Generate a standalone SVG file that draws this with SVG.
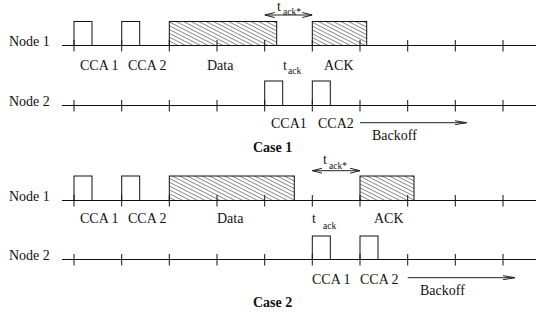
<svg xmlns="http://www.w3.org/2000/svg" width="537" height="320" viewBox="0 0 537 320">
<style>
  text { font-family: "Liberation Serif", "Times New Roman", serif; font-size: 14px; fill: #111; }
  .sub { font-size: 9.5px; }
  .bold { font-weight: bold; }
  .line { stroke: #111; stroke-width: 1; fill: none; }
  .box { stroke: #111; stroke-width: 1; fill: none; }
  .hatch { stroke: #111; stroke-width: 1; fill: url(#hatch); }
  .arrow { stroke: #222; stroke-width: 1; fill: none; }
</style>
<defs>
  <pattern id="hatch" patternUnits="userSpaceOnUse" width="10" height="3.4" patternTransform="rotate(27)">
    <line x1="0" y1="0.5" x2="10" y2="0.5" stroke="#333" stroke-width="0.6"/>
  </pattern>
  <marker id="ah" viewBox="0 0 10 6" refX="10" refY="3" markerWidth="10" markerHeight="6" markerUnits="userSpaceOnUse" orient="auto-start-reverse">
    <path d="M0,0.5 L10,3 L0,5.5" fill="none" stroke="#222" stroke-width="1"/>
  </marker>
  <marker id="ahl" viewBox="0 0 12 5" refX="12" refY="2.5" markerWidth="12" markerHeight="5" markerUnits="userSpaceOnUse" orient="auto">
    <path d="M0,0.5 L12,2.5 L0,4.5" fill="none" stroke="#222" stroke-width="1"/>
  </marker>
</defs>

<g id="case1">
  <g id="c1-node1">
    <text x="9" y="46">Node 1</text>
    <path class="line" d="M62,45.5 H536"/>
    <path class="line" d="M74,40 V51.5 M121.7,40 V51.5 M169.3,40 V51.5 M217,40 V51.5 M264.7,40 V51.5 M312.3,40 V51.5 M360,40 V51.5 M407.7,40 V51.5 M455.3,40 V51.5 M503,40 V51.5"/>
    <rect class="box" x="74" y="21.5" width="18" height="24"/>
    <rect class="box" x="121.7" y="21.5" width="18" height="24"/>
    <rect class="hatch" x="169.3" y="21.5" width="107.4" height="24"/>
    <rect class="hatch" x="312.3" y="21.5" width="54.4" height="24"/>
    <text x="80" y="70">CCA 1</text>
    <text x="128" y="70">CCA 2</text>
    <text x="207" y="70">Data</text>
    <text x="283" y="70">t</text><text class="sub" x="288" y="74">ack</text>
    <text x="324" y="70">ACK</text>
    <text x="277" y="11">t</text><text class="sub" x="283" y="14.5">ack*</text>
  </g>
  <g id="c1-node2">
    <text x="9" y="106">Node 2</text>
    <path class="line" d="M62,105.5 H536"/>
    <path class="line" d="M74,100 V111.5 M121.7,100 V111.5 M169.3,100 V111.5 M217,100 V111.5 M264.7,100 V111.5 M312.3,100 V111.5 M360,100 V111.5 M407.7,100 V111.5 M455.3,100 V111.5 M503,100 V111.5"/>
    <rect class="box" x="264.7" y="81" width="18" height="24.5"/>
    <rect class="box" x="312.3" y="81" width="18" height="24.5"/>
    <text x="271" y="128">CCA1</text>
    <text x="318" y="128">CCA2</text>
    <text x="372" y="140">Backoff</text>
  </g>
  <text class="bold" x="253" y="152">Case 1</text>
</g>

<g id="case2">
  <g id="c2-node1">
    <text x="9" y="201">Node 1</text>
    <path class="line" d="M62,200.5 H536"/>
    <path class="line" d="M74,195 V206.5 M121.7,195 V206.5 M169.3,195 V206.5 M217,195 V206.5 M264.7,195 V206.5 M312.3,195 V206.5 M360,195 V206.5 M407.7,195 V206.5 M455.3,195 V206.5 M503,195 V206.5"/>
    <rect class="box" x="74" y="176" width="18" height="24.5" stroke-width="1.3"/>
    <rect class="box" x="121.7" y="176" width="18" height="24.5"/>
    <rect class="hatch" x="169.3" y="176" width="125" height="24.5"/>
    <rect class="hatch" x="360" y="176" width="54" height="24.5"/>
    <text x="80" y="223">CCA 1</text>
    <text x="128" y="223">CCA 2</text>
    <text x="217" y="223">Data</text>
    <text x="312" y="223">t</text><text class="sub" x="323" y="229">ack</text>
    <text x="374" y="223">ACK</text>
    <text x="323" y="164">t</text><text class="sub" x="329" y="168.5">ack*</text>
  </g>
  <g id="c2-node2">
    <text x="9" y="260">Node 2</text>
    <path class="line" d="M62,259.5 H536"/>
    <path class="line" d="M74,254 V265.5 M121.7,254 V265.5 M169.3,254 V265.5 M217,254 V265.5 M264.7,254 V265.5 M312.3,254 V265.5 M360,254 V265.5 M407.7,254 V265.5 M455.3,254 V265.5 M503,254 V265.5"/>
    <rect class="box" x="312.3" y="236" width="18" height="23.5"/>
    <rect class="box" x="360" y="236" width="18" height="23.5"/>
    <text x="312" y="284">CCA 1</text>
    <text x="360" y="284">CCA 2</text>
    <text x="420" y="295">Backoff</text>
  </g>
  <text class="bold" x="253" y="307">Case 2</text>
</g>

<g id="connectors">
  <path class="arrow" d="M264.7,15 H312.3" marker-start="url(#ah)" marker-end="url(#ah)"/>
  <path class="arrow" d="M360,122.7 H466.5" marker-end="url(#ahl)"/>
  <path class="arrow" d="M312.3,170.7 H360" marker-start="url(#ah)" marker-end="url(#ah)"/>
  <path class="arrow" d="M407.7,277.7 H515" marker-end="url(#ahl)"/>
</g>
</svg>
